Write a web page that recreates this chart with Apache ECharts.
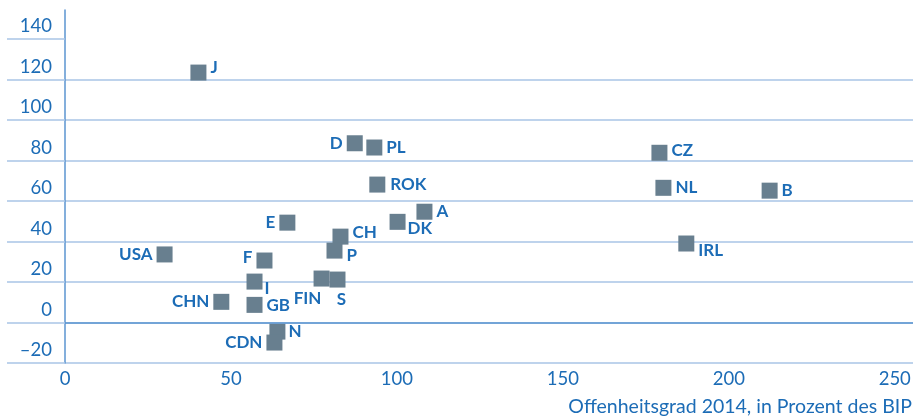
<!DOCTYPE html>
<html>
<head>
<meta charset="utf-8">
<script src="https://cdn.jsdelivr.net/npm/echarts@6/dist/echarts.min.js"></script>
<style>
html, body { margin: 0; padding: 0; background: #fff; }
#main { width: 918px; height: 419px; }
</style>
</head>
<body>
<div id="main"></div>
<script>
// Länder, Offenheitsgrad (x) und Wert (y)
var countries = ['J', 'D', 'PL', 'CZ', 'NL', 'B', 'ROK', 'A', 'DK', 'E', 'CH', 'IRL', 'USA', 'F', 'P', 'I', 'FIN', 'S', 'CHN', 'GB', 'N', 'CDN'];
var openness  = [40.2, 87.3, 93.2, 179.1, 180.3, 212.3, 94.1, 108.3, 100.2, 67.0, 83.0, 187.2, 30.0, 60.1, 81.2, 57.1, 77.3, 82.1, 47.1, 57.1, 64.0, 63.1];
var values    = [123.4, 88.5, 86.4, 83.8, 66.5, 65.1, 68.1, 54.7, 49.7, 49.3, 42.4, 39.0, 33.6, 30.6, 35.5, 20.2, 21.7, 21.2, 10.2, 8.7, -4.5, -9.9];
var yTicks = [-20, 0, 20, 40, 60, 80, 100, 120, 140];
var xTicks = [0, 50, 100, 150, 200, 250];
var xTitle = 'Offenheitsgrad 2014, in Prozent des BIP';

var blue = '#1c6cb6';
var gridColor = '#a9c5e6';
var axisColor = '#5b95d1';
var fontFam = 'Lato, "Noto Sans", sans-serif';

// wo das Label neben dem Punkt steht: [position, dx, dy]
var labelLayout = {
    J: ['right', 0, -5], D: ['left', 0, 0], PL: ['right', 0, 0], CZ: ['right', 0, -2],
    NL: ['right', 0, 0], B: ['right', 0, 0], ROK: ['right', 1, 0], A: ['right', 0, 0],
    DK: ['right', -2, 7], E: ['left', 0, 0], CH: ['right', 0, -4], IRL: ['right', 0, 7],
    USA: ['left', 0, 0], F: ['left', 0, -3], P: ['right', 0, 5], I: ['right', -2, 7],
    FIN: ['bottom', -14, -1], S: ['bottom', 4, -1], CHN: ['left', 0, 0], GB: ['right', 0, 1],
    N: ['right', -1, 0], CDN: ['left', 0, 0]
};

var points = countries.map(function (c, i) {
    var l = labelLayout[c];
    return {
        name: c,
        value: [openness[i], values[i]],
        label: { position: l[0], offset: [l[1], l[2]] }
    };
});

var chart = echarts.init(document.getElementById('main'));

var option = {
    animation: false,
    title: {
        text: xTitle,
        right: 6,
        top: 397,
        padding: 0,
        textStyle: { color: blue, fontSize: 19.5, fontWeight: 'normal', fontFamily: fontFam }
    },
    grid: { left: 65, right: 5, top: 10, bottom: 56, containLabel: false, outerBoundsMode: 'none' },
    xAxis: {
        type: 'value',
        min: 0,
        max: 255.5,
        interval: 50,
        axisLine: { show: false },
        axisTick: { show: false },
        splitLine: { show: false },
        axisLabel: {
            customValues: xTicks,
            color: blue, fontSize: 18.5, fontFamily: fontFam, margin: 7
        }
    },
    yAxis: {
        type: 'value',
        min: -20,
        max: 154.3,
        interval: 20,
        axisLine: { show: true, onZero: false, lineStyle: { color: axisColor, width: 1.5 } },
        axisTick: {
            show: true,
            customValues: yTicks,
            length: 58,
            lineStyle: { color: gridColor, width: 1.5 }
        },
        splitLine: { show: true, showMaxLine: false, lineStyle: { color: gridColor, width: 1.5 } },
        axisLabel: {
            customValues: yTicks,
            color: blue, fontSize: 18.5, fontFamily: fontFam,
            margin: 13,
            verticalAlign: 'bottom',
            padding: [0, 0, 3, 0],
            formatter: function (v) { return String(v).replace('-', '–'); }
        }
    },
    series: [{
        type: 'scatter',
        symbol: 'rect',
        symbolSize: 16,
        itemStyle: { color: '#687f8f', opacity: 1 },
        label: {
            show: true,
            formatter: '{b}',
            distance: 4,
            color: blue,
            fontSize: 17,
            fontWeight: 'bold',
            fontFamily: fontFam
        },
        data: points,
        markLine: {
            silent: true,
            symbol: 'none',
            label: { show: false },
            lineStyle: { color: axisColor, width: 1.5, type: 'solid' },
            data: [{ yAxis: 0 }]
        }
    }]
};

chart.setOption(option);
</script>
</body>
</html>
